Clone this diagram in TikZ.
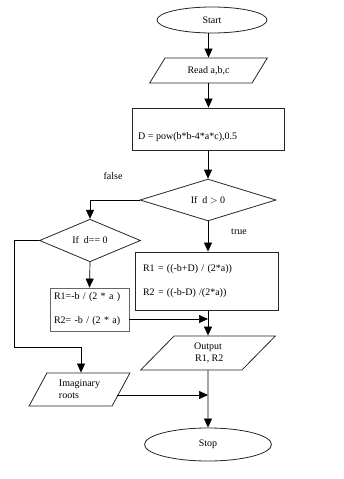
\documentclass[tikz,border=0pt]{standalone}
\usepackage{fontspec}
\setmainfont{Liberation Serif}
\usetikzlibrary{shapes.geometric, positioning, arrows.meta}

\tikzset{
  fleche/.style={-{Triangle[length=9pt,width=8pt]}, line width=0.7pt},
  bord/.style={draw=black!85, line width=0.8pt},
  ovale/.style={bord, ellipse, inner sep=0pt},
  boite/.style={bord, rectangle, inner sep=0pt},
  entree/.style={bord, trapezium, trapezium stretches=true, inner sep=0pt},
  test/.style={bord, diamond, inner sep=0pt}
}

\begin{document}
\begin{tikzpicture}[x=1pt, y=-1pt, font=\fontsize{10}{12}\selectfont]
        \useasboundingbox (0,0) rectangle (343,479);

        % Blocs
        \node[ovale, minimum width=110pt, minimum height=26pt] (start) at (212,20) {Start};
        \node[entree, trapezium left angle=49, trapezium right angle=131,
              minimum width=118pt, minimum height=25pt] (read) at (208.5,70.5) {Read a,b,c};
        \node[boite, minimum width=152pt, minimum height=42pt] (calc) at (208,129) {};
        \node[right, inner sep=0pt] (calctxt) at (138,137) {D = pow(b*b-4*a*c),0.5};
        \node[test, minimum width=136pt, minimum height=34pt] (ifpos) at (208,200) {If\ \ d $>$ 0};
        \node[test, minimum width=101pt, minimum height=33pt] (ifnul) at (90,240.5) {If\ \ d== 0};
        \node[boite, minimum width=143pt, minimum height=58pt, text width=127pt,
              align=left, inner xsep=8pt] (deux) at (206.5,281)
              {R1 = ((-b+D) / (2*a))\\[12pt]R2 = ((-b-D) /(2*a))};
        \node[boite, draw=black!60, minimum width=79pt, minimum height=43pt, text width=71pt,
              align=left, inner xsep=4pt] (double) at (89.5,309.5)
              {R1=-b / (2 * a )\\[12pt]R2= -b / (2 * a)};
        \node[entree, trapezium left angle=53, trapezium right angle=127,
              minimum width=135pt, minimum height=34pt, align=center] (output) at (208,353)
              {Output\\\ R1, R2};
        \node[entree, trapezium left angle=59, trapezium right angle=121,
              minimum width=101pt, minimum height=33pt, align=left] (imag) at (79.5,389.5)
              {Imaginary\\roots};
        \node[ovale, minimum width=127pt, minimum height=33pt] (stop) at (208,444.5) {Stop};

        % Labels
        \node (faux) at (113,176) {false};
        \node (vrai) at (239,232) {true};

        % Fleches
        \draw[fleche] (start.south -| read.north) -- (read.north);
        \draw[fleche] (read.south) -- (read.south |- calc.north);
        \draw[fleche] (calc.south) -- (ifpos.north);
        \draw[fleche] (ifpos.west) -| (ifnul.north);
        \draw[fleche] (ifpos.south) -- (ifpos.south |- deux.north);
        \draw[fleche] (ifnul.south) -- (double.north);
        \draw[fleche] (deux.south -| output.north) -- (output.north);
        \draw[fleche] ([yshift=-9.5pt]double.east) -- ([yshift=-9.5pt]double.east -| output.north);
        \draw[fleche] (output.south) -- (stop.north);
        \coordinate (coude) at (14,347);
        \draw[fleche] (ifnul.west) -| (coude) -| ([xshift=1.5pt]imag.north);
        \draw[fleche] ([xshift=-4pt, yshift=-5.5pt]imag.east) -- ([yshift=-5.5pt]imag.east -| output.north);
    \end{tikzpicture}
\end{document}
